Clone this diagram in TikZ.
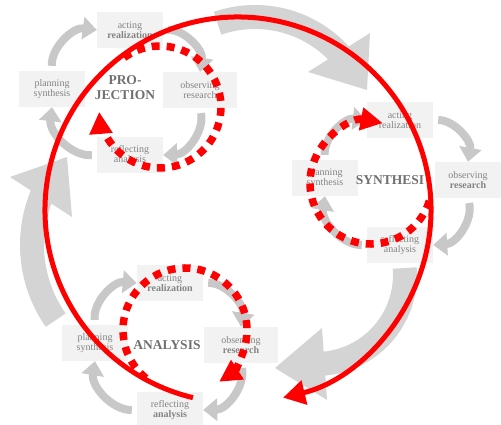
\documentclass[tikz,border=0pt]{standalone}
\usepackage{fontspec}
\setmainfont{Liberation Serif}
\usepackage{tikz}
\usetikzlibrary{arrows.meta}
\definecolor{boxfill}{RGB}{242,242,242}
\definecolor{boxtext}{RGB}{132,132,132}
\definecolor{cycgray}{RGB}{200,200,200}
\definecolor{bandgray}{RGB}{212,212,212}
\definecolor{titlegray}{RGB}{112,112,112}

\begin{document}
\begin{tikzpicture}[line join=round,x=1pt,y=1pt,
  box/.style={fill=boxfill,text=boxtext,align=center,minimum width=66pt,minimum height=36pt,inner sep=1pt,font=\fontsize{10}{10.5}\selectfont},
  title/.style={text=titlegray,align=center,font=\fontsize{13.5}{15}\selectfont\bfseries},
  cyc/.style={draw=cycgray,line width=8pt,shorten <=5pt,-{Triangle[width=22pt,length=14pt]}},
  band/.style={draw=bandgray,line width=24pt},
  head/.style={fill=bandgray},
  dotred/.style={draw=red,line width=7.5pt,dash pattern=on 8pt off 7pt,-{Triangle[width=22pt,length=22pt]}},
  bigred/.style={draw=red,line width=5pt,-{Triangle[width=24pt,length=22pt]}}]
\useasboundingbox (0.,0.) rectangle (501.,425.);
\clip (0.,0.) rectangle (501.,425.);

% big gray arrows
\draw [band] (163.,180.) ++(215.:131.) arc (215.:155.5:131.);
\fill [head] (10.,248.) -- (72.,208.) -- (67.,268.) -- cycle;
\draw [band] (255.,293.) ++(109.:115.) arc (109.:41.:115.);
\fill [head] (370.,392.) -- (308.,353.) -- (367.,335.) -- cycle;
\draw [band] (316.,150.) ++(4.5:89.) arc (4.5:-88.:89.);
\fill [head] (322.,97.) -- (327.,25.) -- (275.,57.) -- cycle;

% PROJECTION
\node [box] (actP) at (130.,395.) {acting\\\textbf{realization}};
\node [box] (planP) at (52.,336.) {planning\\synthesis};
\node [box,minimum width=74pt] (obsP) at (200.,335.) {observing\\research};
\node [box] (reflP) at (130.,270.) {reflecting\\analysis};
\node [title] (tP) at (125.,337.) {PRO-\\JECTION};
\draw [cyc] (planP.north) to[bend left=50] (actP.west);
\draw [cyc] (actP.east) to[bend left=50] (obsP.north);
\draw [cyc] (obsP.south) to[bend left=50] (reflP.east);
\draw [cyc] (reflP.west) to[bend left=50] (planP.south);

% SYNTHESIS
\node [box] (actS) at (400.,305.) {acting\\realization};
\node [box] (planS) at (325.,247.) {planning\\synthesis};
\node [box] (obsS) at (468.,245.) {observing\\\textbf{research}};
\node [box] (reflS) at (400.,180.) {reflecting\\analysis};
\node [title] (tS) at (390.,245.) {SYNTHESI};
\draw [cyc] (planS.north) to[bend left=50] (actS.west);
\draw [cyc] (actS.east) to[bend left=50] (obsS.north);
\draw [cyc] (obsS.south) to[bend left=50] (reflS.east);
\draw [cyc] (reflS.west) to[bend left=50] (planS.south);

% ANALYSIS
\node [box] (actA) at (170.,142.) {acting\\\textbf{realization}};
\node [box] (planA) at (95.,82.) {planning\\synthesis};
\node [box,minimum width=74pt] (obsA) at (241.,80.) {observing\\\textbf{research}};
\node [box] (reflA) at (170.,15.) {reflecting\\\textbf{analysis}};
\node [title] (tA) at (167.,80.) {ANALYSIS};
\draw [cyc] (planA.north) to[bend left=50] (actA.west);
\draw [cyc] (actA.east) to[bend left=50] (obsA.north);
\draw [cyc] (obsA.south) to[bend left=50] (reflA.east);
\draw [cyc] (reflA.west) to[bend left=50] (planA.south);

% red cycles
\draw [dotred] (160.,318.) ++(126.:61.) arc (126.:-175.4:61.);
\draw [dotred] (371.,242.) ++(-17.:61.) arc (-17.:-281.:61.);
\draw [dotred] (185.,95.) ++(231.:62.) arc (231.:-56.6:62.);
\draw [bigred] (238.,215.) ++(256.5:193.) arc (256.5:-76.5:193.);
\end{tikzpicture}
\end{document}
